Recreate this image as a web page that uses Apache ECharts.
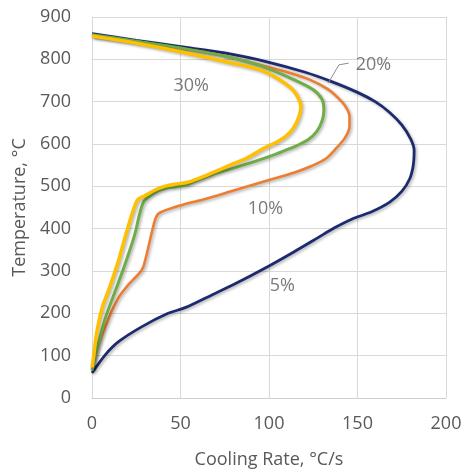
<!DOCTYPE html>
<html>
<head>
<meta charset="utf-8">
<script src="https://cdn.jsdelivr.net/npm/echarts@6/dist/echarts.min.js"></script>
<style>
  html, body { margin: 0; padding: 0; background: #fff; }
  #chart { width: 465px; height: 474px; }
</style>
</head>
<body>
<div id="chart"></div>
<script>
// cooling rate (°C/s), temperature (°C) pairs
const rate5 = [
  [0, 861], [25, 845], [50, 830], [75, 815], [100, 793], [120, 770], [135, 748],
  [150, 722], [160, 700], [168, 675], [175, 645], [180, 612], [182, 585], [181.5, 550],
  [179.5, 518], [175, 488], [168, 462], [158, 440], [147, 423], [137, 402], [127, 377],
  [114, 345], [100, 312], [80, 268], [68, 244], [53, 214], [43, 200], [28, 168],
  [15, 133], [7.5, 102], [0, 59]
];
const rate10 = [
  [0, 855], [25, 842], [50, 826], [75, 808], [95, 787], [110, 770], [123, 752],
  [133, 730], [138, 713], [143, 690], [145.5, 665], [145.5, 642], [143, 615],
  [138, 590], [132, 565], [124, 548], [114, 532], [100, 515], [80, 490], [64, 470],
  [50, 455], [38, 437], [36, 425], [34, 395], [31.5, 350], [29, 310], [27, 296],
  [20, 265], [15, 237], [9.4, 188], [3.7, 125], [0, 68]
];
const rate20 = [
  [0, 858], [25, 843], [50, 827], [75, 808], [95, 785], [114, 752], [125, 728],
  [130, 705], [131, 680], [130, 655], [127, 630], [122, 610], [114, 593], [105, 578],
  [95, 563], [80, 543], [68, 528], [58, 512], [53, 503], [48, 499], [42, 496],
  [35, 484], [29, 462], [24, 384], [19, 320], [14, 262], [7.5, 188], [2, 102], [0, 65]
];
const rate30 = [
  [0, 855], [25, 838], [50, 818], [75, 795], [95, 775], [106, 752], [113, 730],
  [116, 713], [118, 690], [117.5, 673], [116, 655], [113.5, 636], [110, 620],
  [105, 606], [97, 590], [87.5, 567], [78, 550], [68.6, 533], [60, 518], [53.6, 509],
  [47, 505], [42, 501], [36, 492], [30, 478], [25.4, 466], [19, 384], [15, 325],
  [10, 262], [5.6, 211], [2.5, 150], [1, 100], [0, 72]
];
const curveLabels = [
  { name: '30%', value: [56, 738] },
  { name: '20%', value: [159, 787] },
  { name: '10%', value: [98, 446] },
  { name: '5%', value: [107.5, 265] }
];
const leader20 = [[133.5, 744], [139.5, 787], [145, 791]];

const xTicks = { min: 0, max: 200, interval: 50 };
const yTicks = { min: 0, max: 900, interval: 100 };

const textColor = '#595959';
const fontFamily = 'Open Sans';

function curve(name, data, color, width) {
  return {
    name: name,
    type: 'line',
    data: data,
    smooth: 0.3,
    showSymbol: false,
    symbol: 'none',
    lineStyle: {
      color: color,
      width: width,
      shadowColor: 'rgba(0,0,0,0.3)',
      shadowBlur: 3,
      shadowOffsetX: 1.5,
      shadowOffsetY: 1.5
    }
  };
}

const chart = echarts.init(document.getElementById('chart'));
chart.setOption({
  animation: false,
  grid: { left: 92, right: 19, top: 17, bottom: 74 },
  xAxis: {
    type: 'value',
    min: xTicks.min,
    max: xTicks.max,
    interval: xTicks.interval,
    name: 'Cooling Rate, °C/s',
    nameLocation: 'middle',
    nameGap: 53,
    nameTextStyle: { color: textColor, fontSize: 18, fontFamily: fontFamily },
    axisLine: { show: true, lineStyle: { color: '#cfcfcf' } },
    axisTick: { show: false },
    axisLabel: { color: textColor, fontSize: 18, fontFamily: fontFamily, margin: 17 },
    splitLine: { show: true, lineStyle: { color: '#d9d9d9' } }
  },
  yAxis: {
    type: 'value',
    min: yTicks.min,
    max: yTicks.max,
    interval: yTicks.interval,
    name: 'Temperature, °C',
    nameLocation: 'middle',
    nameGap: 55,
    nameTextStyle: { color: textColor, fontSize: 18, fontFamily: fontFamily },
    axisLine: { show: true, lineStyle: { color: '#d9d9d9' } },
    axisTick: { show: false },
    axisLabel: { color: textColor, fontSize: 18, fontFamily: fontFamily, margin: 21 },
    splitLine: { show: true, lineStyle: { color: '#d9d9d9' } }
  },
  series: [
    curve('5%', rate5, '#1c2b6e', 2.8),
    curve('10%', rate10, '#ed7d31', 2.6),
    curve('20%', rate20, '#70ad47', 3),
    curve('30%', rate30, '#ffc000', 3.5),
    {
      type: 'line',
      data: leader20,
      symbol: 'none',
      lineStyle: { color: '#8c8c8c', width: 1 },
      z: 3
    },
    {
      type: 'scatter',
      data: curveLabels,
      symbolSize: 0,
      label: {
        show: true,
        position: 'inside',
        formatter: '{b}',
        color: textColor,
        fontSize: 18,
        fontFamily: fontFamily
      },
      z: 4
    }
  ]
});
</script>
</body>
</html>
